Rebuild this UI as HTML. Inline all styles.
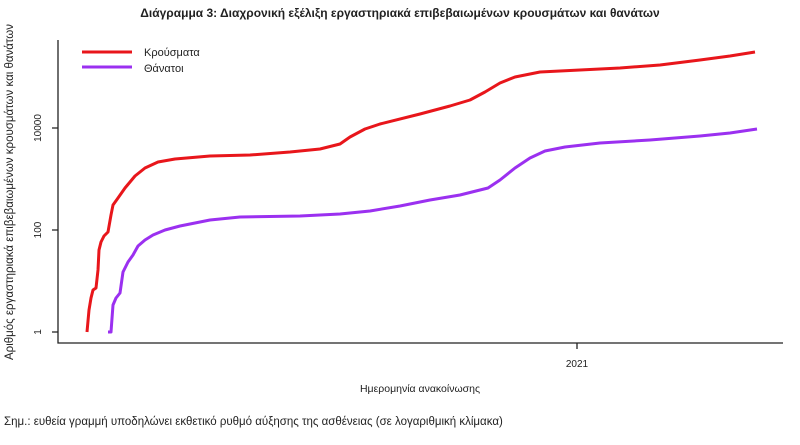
<!DOCTYPE html>
<html><head><meta charset="utf-8"><style>
body{margin:0;background:#fff;width:800px;height:440px;overflow:hidden}
text{font-family:"Liberation Sans","DejaVu Sans",sans-serif;fill:#222}
</style></head><body>
<svg width="800" height="440" viewBox="0 0 800 440" xmlns="http://www.w3.org/2000/svg">
<text x="400" y="17" text-anchor="middle" font-size="12" font-weight="bold">Διάγραμμα 3: Διαχρονική εξέλιξη εργαστηριακά επιβεβαιωμένων κρουσμάτων και θανάτων</text>
<g stroke="#222" stroke-width="1.3" fill="none">
<path d="M58 40V343H783"/>
<path d="M52 332H58M52 230H58M52 128H58M577 343V349"/>
</g>
<g font-size="10">
<text transform="translate(41,332) rotate(-90)" text-anchor="middle">1</text>
<text transform="translate(41,230) rotate(-90)" text-anchor="middle">100</text>
<text transform="translate(41,128) rotate(-90)" text-anchor="middle">10000</text>
<text x="577" y="367" text-anchor="middle">2021</text>
<text transform="translate(13,192) rotate(-90)" text-anchor="middle" font-size="11.5">Αριθμός εργαστηριακά επιβεβαιωμένων κρουσμάτων και θανάτων</text>
<text x="420" y="392" text-anchor="middle" font-size="10.5">Ημερομηνία ανακοίνωσης</text>
<text x="4" y="425" font-size="11.5">Σημ.: ευθεία γραμμή υποδηλώνει εκθετικό ρυθμό αύξησης της ασθένειας (σε λογαριθμική κλίμακα)</text>
<text x="144" y="56" font-size="11">Κρούσματα</text>
<text x="144" y="72" font-size="11">Θάνατοι</text>
</g>
<g fill="none" stroke-width="3" stroke-linejoin="round">
<path stroke="#e8161b" d="M82 52H132"/>
<path stroke="#9b30f0" d="M82 67H132"/>
<path stroke="#e8161b" d="M87 332L89 310L91 298L93 290L96 288L98 270L99 250L101 242L104 236L108 232L111 215L113 205L118 198L125 188L135 176L145 168L158 162L175 159L210 156L250 155L290 152L320 149L340 144L350 137L365 129L380 124L420 114L450 106L470 100L485 92L500 83L515 77L540 72L580 70L620 68L660 65L700 60L730 56L755 52"/>
<path stroke="#9b30f0" d="M108 332L111 332L113 305L116 298L120 293L123 272L128 262L133 255L138 246L145 240L153 235L165 230L180 226L210 220L240 217L300 216L340 214L370 211L400 206L430 200L460 195L488 188L500 180L515 168L530 158L545 151L565 147L600 143L650 140L700 136L730 133L757 129"/>
</g>
</svg>
</body></html>
